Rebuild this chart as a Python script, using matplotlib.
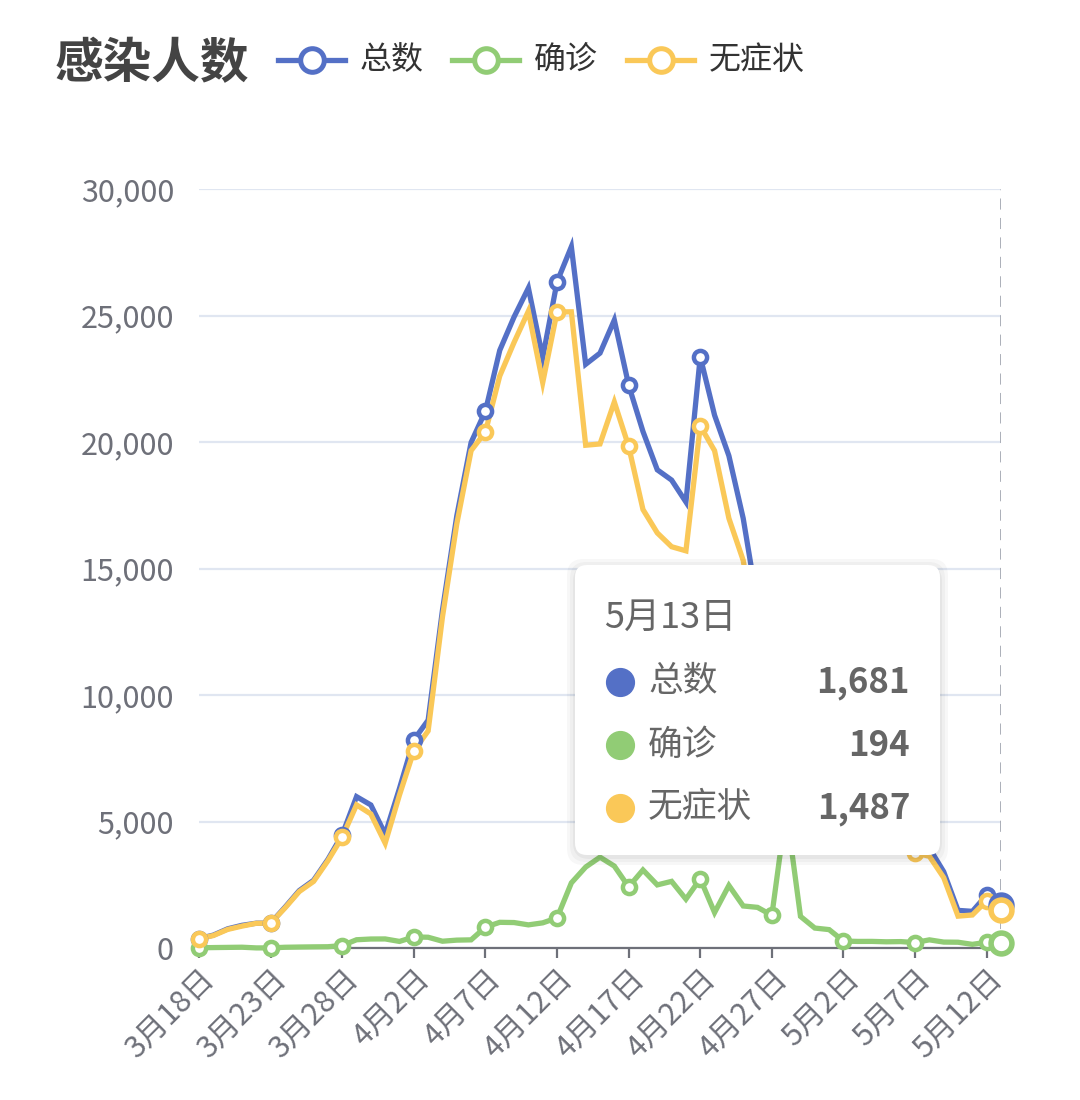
import matplotlib
matplotlib.use("Agg")
import matplotlib.pyplot as plt
from matplotlib.lines import Line2D
from matplotlib.patches import FancyBboxPatch
from matplotlib.ticker import FuncFormatter

plt.rcParams['font.family'] = ['Noto Sans CJK SC', 'DejaVu Sans']

# 日期 3/18 - 5/13
dates = (["3月%d日" % d for d in range(18, 32)] +
         ["4月%d日" % d for d in range(1, 31)] +
         ["5月%d日" % d for d in range(1, 14)])

confirmed = [8, 17, 24, 31, 4, 4, 29, 38, 45, 50, 96, 326, 355, 358,
             260, 438, 425, 268, 311, 322, 824, 1015, 1006, 914, 994, 1189,
             2573, 3200, 3590, 3238, 2417, 3084, 2494, 2634, 1931, 2736, 1401,
             2472, 1661, 1606, 1292, 5487, 1249, 788,
             727, 274, 260, 261, 245, 253, 215, 322, 234, 228, 144, 227, 194]

asymptomatic = [366, 492, 734, 865, 977, 979, 1580, 2231, 2631, 3450, 4381,
                5656, 5298, 4144,
                6051, 7788, 8581, 13086, 16766, 19660, 20398, 22609, 23937,
                25173, 22348, 25141, 25146, 19872, 19923, 21582, 19831, 17332,
                16407, 15861, 15698, 20634, 19657, 16983, 15319, 11956, 9330,
                9545, 8932, 6606,
                6895, 5395, 4722, 4390, 4024, 3961, 3760, 3625, 2780, 1259,
                1305, 1869, 1487]

total = [374, 509, 758, 896, 981, 983, 1609, 2269, 2676, 3500, 4477, 5982,
         5653, 4502,
         6311, 8226, 9006, 13354, 17077, 19982, 21222, 23624, 24943, 26087,
         23342, 26330, 27719, 23072, 23513, 24820, 22248, 20416, 18901,
         18495, 17629, 23370, 21058, 19455, 16980, 13562, 10622, 15032,
         10181, 7394,
         7622, 5669, 4982, 4651, 4269, 4214, 3975, 3947, 3014, 1487, 1449,
         2096, 1681]

series = [("总数", total, '#5470c6'),
          ("确诊", confirmed, '#91cc75'),
          ("无症状", asymptomatic, '#fac858')]

W, H = 1080, 1100
fig = plt.figure(figsize=(W / 100, H / 100), dpi=100)


def fx(px):
    return px / W


def fy(py):
    return 1 - py / H


ax = fig.add_axes([fx(199), fy(948), fx(1001) - fx(199), fy(189) - fy(948)])

x = list(range(len(dates)))
marks = list(range(0, len(dates), 5)) + [len(dates) - 1]
for name, vals, col in series:
    ax.plot(x, vals, color=col, lw=3.8, solid_joinstyle='miter', zorder=3,
            clip_on=False)
    ax.plot([x[i] for i in marks[:-1]], [vals[i] for i in marks[:-1]],
            ls='none', marker='o', ms=9.5, mew=3.2, mfc='white', mec=col,
            zorder=4, clip_on=False)
    ax.plot(x[-1], vals[-1], ls='none', marker='o', ms=15, mew=4,
            mfc='white', mec=col, zorder=5, clip_on=False)

ax.set_xlim(0, len(dates) - 1)
ax.set_ylim(0, 30000)
ax.set_yticks(range(0, 30001, 5000))
ax.yaxis.set_major_formatter(FuncFormatter(lambda v, p: f"{int(v):,}"))
ax.set_xticks(marks[:-1])
ax.set_xticklabels([dates[i] for i in marks[:-1]], rotation=45, ha='right',
                   rotation_mode='anchor')
ax.grid(axis='y', color='#e0e6f1', lw=1.6)
ax.set_axisbelow(True)
for s in ['top', 'right', 'left']:
    ax.spines[s].set_visible(False)
ax.spines['bottom'].set_color('#6e7079')
ax.spines['bottom'].set_linewidth(1.6)
ax.tick_params(axis='y', length=0, pad=18, labelsize=22, labelcolor='#6e7079')
ax.tick_params(axis='x', length=7, width=1.6, color='#6e7079', pad=4,
               labelsize=22, labelcolor='#6e7079')
ax.axvline(len(dates) - 1, color='#a4a8b2', lw=2, ls=(0, (4, 3)), zorder=2)

# 标题和图例
fig.text(fx(55), fy(64), "感染人数", fontsize=35, fontweight='bold',
         color='#444444', va='center', ha='left')
leg_x = [278, 452, 627]
for (name, vals, col), lx in zip(series, leg_x):
    fig.add_artist(Line2D([fx(lx), fx(lx + 67)], [fy(60), fy(60)],
                          transform=fig.transFigure, color=col, lw=3.8))
    fig.add_artist(Line2D([fx(lx + 34)], [fy(60)], transform=fig.transFigure,
                          marker='o', ms=17, mew=3.6, mfc='white', mec=col))
    fig.text(fx(lx + 82), fy(60), name, fontsize=23, color='#333333',
             va='center', ha='left')

# 提示框
for i, a in enumerate([0.03, 0.03, 0.04]):
    g = 8 - i * 3
    fig.add_artist(FancyBboxPatch((fx(575 - g), fy(855 + g + 2)),
                                  fx(365 + 2 * g), fy(565) - fy(855 + 2 * g),
                                  boxstyle="round,pad=0,rounding_size=0.015",
                                  transform=fig.transFigure, fc='black',
                                  ec='none', alpha=a, zorder=8))
fig.add_artist(FancyBboxPatch((fx(575), fy(855)), fx(365), fy(565) - fy(855),
                              boxstyle="round,pad=0,rounding_size=0.011",
                              transform=fig.transFigure, fc='white',
                              ec='none', zorder=9))
fig.text(fx(604), fy(618), dates[-1], fontsize=26, color='#666666',
         va='center', ha='left', zorder=10)
for j, (name, vals, col) in enumerate(series):
    yy = 682 + j * 63
    fig.add_artist(Line2D([fx(620)], [fy(yy)], transform=fig.transFigure,
                          marker='o', ms=20, color=col, zorder=10))
    fig.text(fx(648), fy(yy), name, fontsize=25, color='#666666',
             va='center', ha='left', zorder=10)
    fig.text(fx(910), fy(yy), f"{vals[-1]:,}", fontsize=25, color='#666666',
             fontweight='bold', va='center', ha='right', zorder=10)

fig.savefig("out.png", dpi=100, facecolor='white')
